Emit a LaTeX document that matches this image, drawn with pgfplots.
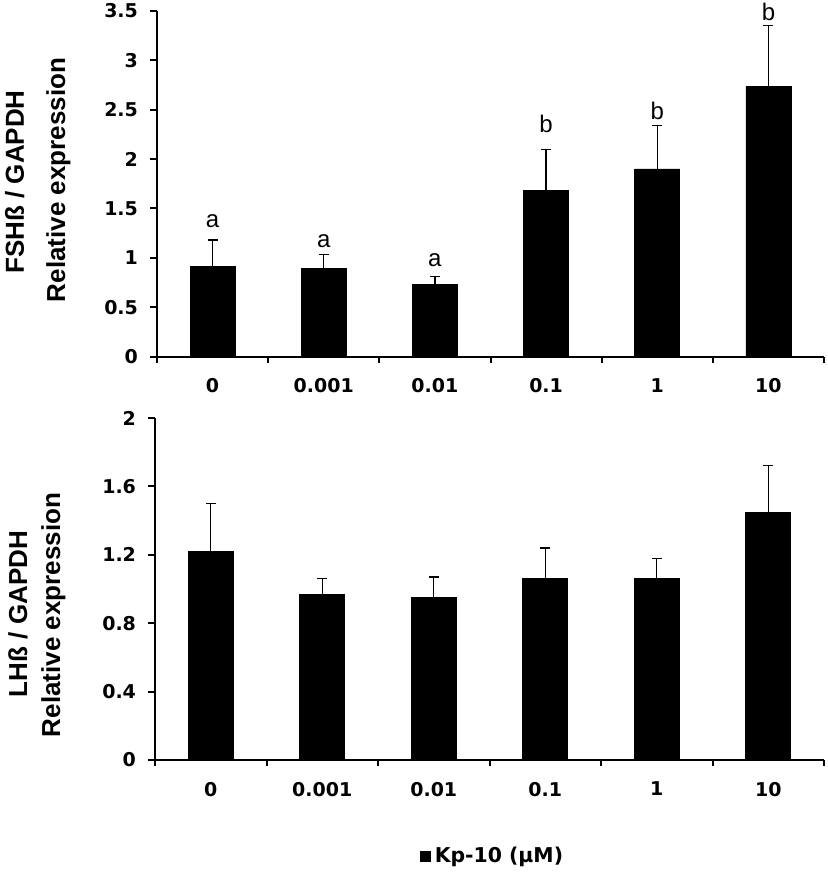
\documentclass[border=0pt]{standalone}
\usepackage{pgfplots}
\pgfplotsset{compat=1.18}
\usepackage{fontspec}
\setmainfont{Liberation Sans}
\newfontfamily\tickfont{DejaVu Sans}

\pgfplotstableread{
x y e ly lab
0 0.91 0.27 1.31 a
1 0.89 0.14 1.10 a
2 0.73 0.08 0.91 a
3 1.68 0.42 2.27 b
4 1.90 0.44 2.40 b
5 2.74 0.61 3.40 b
}\fshdata

\pgfplotstableread{
x y e
0 1.22 0.28
1 0.97 0.09
2 0.95 0.12
3 1.06 0.18
4 1.06 0.12
5 1.45 0.27
}\lhdata

\pgfplotsset{
  mybars/.style={
    scale only axis,
    xmin=-0.5, xmax=5.5,
    axis x line=bottom, axis y line=left,
    axis line style={-, line width=1pt, black},
    xtick={0,...,5},
    xticklabels={0,0.001,0.01,0.1,1,10},
    minor xtick={-0.5,0.5,...,5.5},
    tick align=outside,
    major tick length=3.5pt,
    minor tick length=3pt,
    tick style={line width=1pt, black},
    major x tick style={draw=none},
    ticklabel style={font=\tickfont\bfseries\fontsize{9.5}{10}\selectfont},
    xticklabel style={yshift=-4pt},
    yticklabel style={xshift=-2.5pt},
    clip=false,
  },
  mybarplot/.style={
    ybar, bar width=22.5pt, fill=black, draw=black,
    error bars/.cd, y dir=plus, y explicit,
    error bar style={line width=0.6pt, black},
    error mark options={rotate=90, mark size=2.5pt, line width=0.6pt, black},
  },
}

\begin{document}
\begin{tikzpicture}
\path[use as bounding box] (0,0) rectangle (413.5pt,-436pt);

% top: FSH beta
\begin{axis}[mybars,
  at={(78.5pt,-178.3pt)}, anchor=south west,
  width=333.5pt, height=172.8pt,
  ymin=0, ymax=3.5,
  ytick={0,0.5,1,1.5,2,2.5,3,3.5},
  yticklabels={0,0.5,1,1.5,2,2.5,3,3.5},
]
\addplot[mybarplot] table[x=x, y=y, y error=e] {\fshdata};
\addplot[draw=none, mark=none, nodes near coords, point meta=explicit symbolic,
  nodes near coords style={anchor=base, inner sep=0pt, font=\fontsize{12}{12}\selectfont}]
  table[x=x, y=ly, meta=lab] {\fshdata};
\end{axis}

% bottom: LH beta
\begin{axis}[mybars,
  at={(77.5pt,-380pt)}, anchor=south west,
  width=334.5pt, height=171pt,
  ymin=0, ymax=2,
  ytick={0,0.4,0.8,1.2,1.6,2},
  yticklabels={0,0.4,0.8,1.2,1.6,2},
  legend style={at={(0.506,-0.281)}, anchor=center, draw=none, fill=none,
    font=\tickfont\bfseries\fontsize{10.2}{12}\selectfont,
    inner sep=0pt, legend cell align=left},
]
\addplot[legend image code/.code={\fill[black] (0pt,-2.5pt) rectangle (5pt,2.5pt);}, mybarplot]
  table[x=x, y=y, y error=e] {\lhdata};
\addlegendentry{Kp-10 (μM)}
\end{axis}

% y labels
\node[rotate=90, anchor=base, font=\bfseries\fontsize{13}{14}\selectfont] at (12pt,-91pt) {FSHß / GAPDH};
\node[rotate=90, anchor=base, font=\bfseries\fontsize{13}{14}\selectfont] at (32.5pt,-90pt) {Relative expression};
\node[rotate=90, anchor=base, font=\bfseries\fontsize{13}{14}\selectfont] at (13.5pt,-307pt) {LHß / GAPDH};
\node[rotate=90, anchor=base, font=\bfseries\fontsize{13}{14}\selectfont] at (30pt,-307.5pt) {Relative expression};
\end{tikzpicture}
\end{document}
